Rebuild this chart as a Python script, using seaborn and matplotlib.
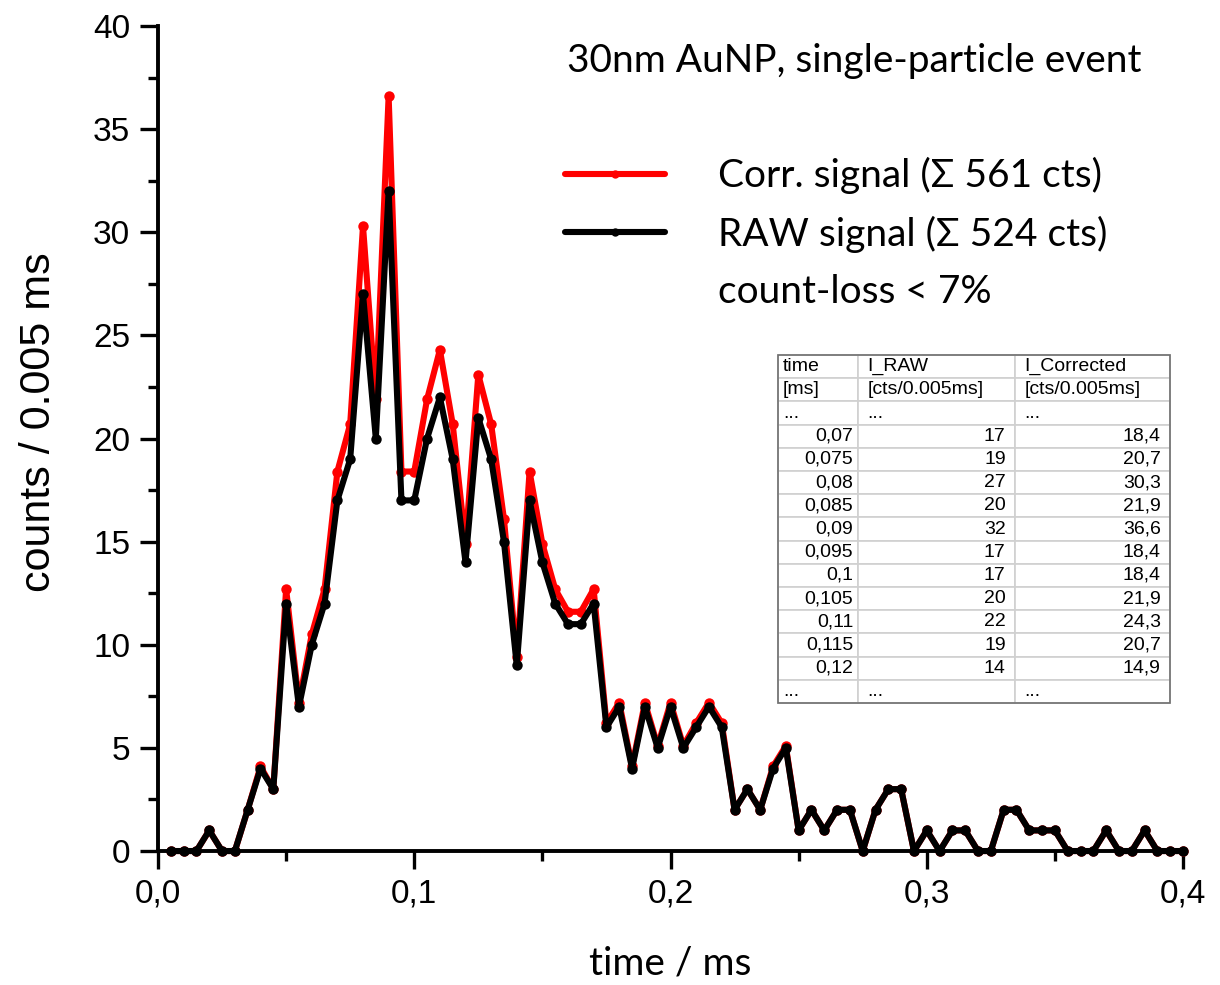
"""
30nm AuNP 单颗粒事件：原始信号与死时间校正信号
"""

import matplotlib
matplotlib.use('Agg')
import matplotlib.pyplot as plt
from matplotlib.ticker import MultipleLocator, FuncFormatter
from matplotlib.lines import Line2D
import seaborn as sns
import numpy as np
import pandas as pd

# 数据 (0.005 ms 一个 bin)
time_ms = [round(0.005 * i, 3) for i in range(1, 81)]
raw_counts = [
    0, 0, 0, 1, 0, 0, 2, 4, 3, 12,
    7, 10, 12, 17, 19, 27, 20, 32, 17, 17,
    20, 22, 19, 14, 21, 19, 15, 9, 17, 14,
    12, 11, 11, 12, 6, 7, 4, 7, 5, 7,
    5, 6, 7, 6, 2, 3, 2, 4, 5, 1,
    2, 1, 2, 2, 0, 2, 3, 3, 0, 1,
    0, 1, 1, 0, 0, 2, 2, 1, 1, 1,
    0, 0, 0, 1, 0, 0, 1, 0, 0, 0,
]
corr_counts = [
    0, 0, 0, 1.0, 0, 0, 2.0, 4.1, 3.0, 12.7,
    7.2, 10.5, 12.7, 18.4, 20.7, 30.3, 21.9, 36.6, 18.4, 18.4,
    21.9, 24.3, 20.7, 14.9, 23.1, 20.7, 16.1, 9.4, 18.4, 14.9,
    12.7, 11.6, 11.6, 12.7, 6.2, 7.2, 4.1, 7.2, 5.1, 7.2,
    5.1, 6.2, 7.2, 6.2, 2.0, 3.0, 2.0, 4.1, 5.1, 1.0,
    2.0, 1.0, 2.0, 2.0, 0, 2.0, 3.0, 3.0, 0, 1.0,
    0, 1.0, 1.0, 0, 0, 2.0, 2.0, 1.0, 1.0, 1.0,
    0, 0, 0, 1.0, 0, 0, 1.0, 0, 0, 0,
]
series_names = ['Corr. signal (Σ 561 cts)', 'RAW signal (Σ 524 cts)']
series_colors = ['#FF0000', '#000000']
note_text = 'count-loss < 7%'
title_text = '30nm AuNP, single-particle event'

# 表格中显示的时间段
table_times = [0.07, 0.075, 0.08, 0.085, 0.09, 0.095, 0.1, 0.105, 0.11, 0.115, 0.12]

sns.set_style('ticks')
plt.rcParams['font.family'] = ['Liberation Sans', 'DejaVu Sans']
plt.rcParams['text.color'] = 'black'
plt.rcParams['axes.labelcolor'] = 'black'
label_font = ['Lato', 'DejaVu Sans']

df = pd.DataFrame({
    'time': time_ms * 2,
    'counts': corr_counts + raw_counts,
    'signal': [series_names[0]] * len(time_ms) + [series_names[1]] * len(time_ms),
})

fig = plt.figure(figsize=(12.2, 9.85), dpi=100)
ax = fig.add_axes([0.1295, 0.1360, 0.8402, 0.8376])

sns.lineplot(
    data=df, x='time', y='counts', hue='signal',
    hue_order=series_names, palette=dict(zip(series_names, series_colors)),
    marker='o', markersize=7.5, markeredgewidth=0, linewidth=4.4,
    legend=False, ax=ax,
)

ax.set_xlim(0, 0.4)
ax.set_ylim(0, 40)
ax.xaxis.set_major_locator(MultipleLocator(0.1))
ax.xaxis.set_minor_locator(MultipleLocator(0.05))
ax.yaxis.set_major_locator(MultipleLocator(5))
ax.yaxis.set_minor_locator(MultipleLocator(2.5))
ax.xaxis.set_major_formatter(FuncFormatter(lambda v, p: f'{v:.1f}'.replace('.', ',')))
ax.yaxis.set_major_formatter(FuncFormatter(lambda v, p: f'{v:.0f}'))
ax.tick_params(which='major', direction='out', length=13, width=2.4, labelsize=24,
               pad=7, colors='black')
ax.tick_params(which='minor', direction='out', length=7, width=2.4, colors='black')
for side in ['left', 'bottom']:
    ax.spines[side].set_linewidth(2.8)
    ax.spines[side].set_color('black')
sns.despine(ax=ax)
for line in ax.get_lines():
    line.set_clip_on(False)

ax.set_xlabel('time / ms', fontsize=28, family=label_font, labelpad=26)
ax.set_ylabel('counts / 0.005 ms', fontsize=31)
ax.yaxis.set_label_coords(-0.097, 0.52)

ax.text(0.399, 0.958, title_text, transform=ax.transAxes, fontsize=28,
        family=label_font, ha='left', va='center')

# 图例：两条线 + 一行说明
handles = [Line2D([], [], color=c, lw=4.4, marker='o', markersize=6, markeredgewidth=0)
           for c in series_colors]
handles.append(Line2D([], [], color='none'))
leg = ax.legend(handles, series_names + [note_text], loc='upper left',
                bbox_to_anchor=(0.397, 0.841), frameon=False, borderpad=0,
                borderaxespad=0, handlelength=2.57, handletextpad=1.36,
                labelspacing=0.55, prop={'family': label_font, 'size': 28})

# 数据表
rows = [['time', 'I_RAW', 'I_Corrected'],
        ['[ms]', '[cts/0.005ms]', '[cts/0.005ms]'],
        ['...', '...', '...']]
for t in table_times:
    i = time_ms.index(t)
    rows.append([f'{t:g}'.replace('.', ','), f'{raw_counts[i]}',
                 f'{corr_counts[i]:.1f}'.replace('.', ',')])
rows.append(['...', '...', '...'])

tbl = ax.table(cellText=rows, colWidths=[80, 157, 155], cellLoc='left',
               bbox=[0.605, 0.1794, 0.3824, 0.4218])
tbl.auto_set_font_size(False)
tbl.set_fontsize(14)
for (r, c), cell in tbl.get_celld().items():
    cell.set_edgecolor('#D0D0D0')
    cell.set_linewidth(1.2)
    cell.set_facecolor('white')
    cell.PAD = 0.06
    if 3 <= r < len(rows) - 1:
        cell.get_text().set_ha('right')
ax.add_patch(plt.Rectangle((0.605, 0.1794), 0.3824, 0.4218, transform=ax.transAxes,
                           fill=False, edgecolor='#707070', lw=1.2, zorder=5))

fig.savefig('out.png', dpi=100)
